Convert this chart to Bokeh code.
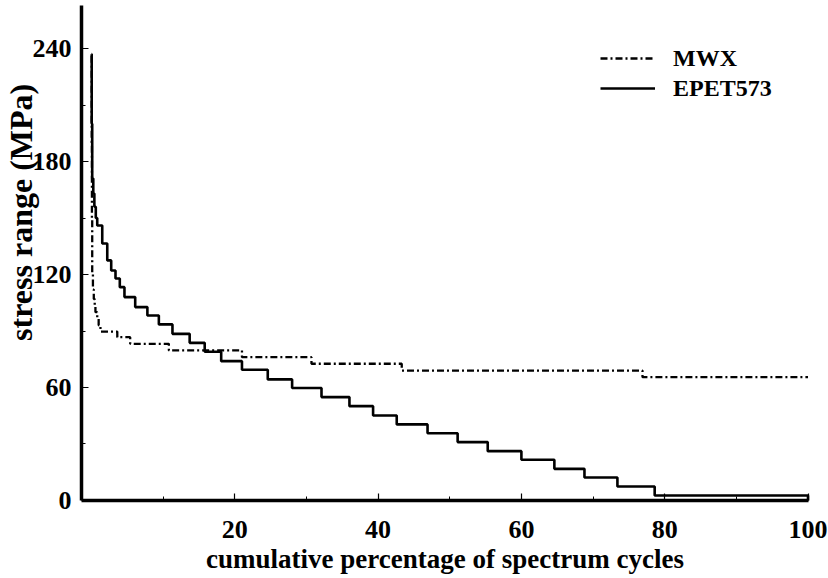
from bokeh.plotting import figure
from bokeh.models import Range1d, FixedTicker, Legend, LegendItem
from bokeh.core.properties import value
from bokeh.embed import file_html
from bokeh.resources import INLINE

# Stress-range spectra: step edges (cumulative % of cycles) and level (MPa) on each step
mwx_edges = [0, 0.03, 0.06, 0.1, 0.2, 0.32, 0.45, 0.55, 0.8, 1.0, 1.25, 3.6, 5.4,
             10.8, 21.0, 30.7, 43.3, 76.9, 100]
mwx_levels = [236, 190, 150, 120, 112, 107, 103, 100, 97, 93, 89.7, 86.7, 83.2,
              79.7, 76.1, 72.6, 69.0, 65.5]

epet_edges = [0, 0.03, 0.1, 0.25, 0.4, 0.6, 0.8, 1.5, 2.2, 2.75, 3.35, 3.95, 4.6,
              6.1, 7.8, 9.4, 11.3, 13.7, 15.8, 18.1, 21.0, 24.6, 28.0, 32.1, 36.0,
              39.3, 42.6, 46.9, 51.1, 55.3, 60.0, 64.6, 68.8, 73.4, 78.6, 100, 100]
epet_levels = [237, 200, 171, 163, 156, 150, 146, 136.5, 127.5, 122.1, 117.9, 113.3,
               108, 102.7, 98.2, 93.5, 88.5, 83.7, 79.0, 74.0, 69.4, 64.3, 59.7, 54.9,
               50.1, 45.1, 40.4, 35.7, 31.0, 26.2, 21.6, 16.8, 12.2, 7.43, 2.66, 0]

series_names = ["MWX", "EPET573"]
x_ticks = [20, 40, 60, 80, 100]
x_minor = [10, 30, 50, 70, 90]
y_ticks = [0, 60, 120, 180, 240]
y_minor = [30, 90, 150, 210]

FONT = "Liberation Serif"

# axis extents (data units) and where the two axes cross
X_START, X_END = -1.4, 100.0
Y_START, Y_END = 0.0, 262.9


def step_path(edges, levels):
    xs, ys = [], []
    for i, lv in enumerate(levels):
        xs += [edges[i], edges[i + 1]]
        ys += [lv, lv]
    return xs, ys


# the frame covers the whole canvas; both axes sit at fixed data positions
p = figure(width=828, height=578, output_backend="svg", toolbar_location=None,
           x_range=Range1d(-12.70, 102.86), y_range=Range1d(-41.42, 265.5),
           min_border=0)
p.min_border_left = 0
p.min_border_right = 0
p.min_border_top = 0
p.min_border_bottom = 0
p.outline_line_color = None
p.xgrid.visible = False
p.ygrid.visible = False
p.background_fill_color = "white"
p.border_fill_color = "white"

mx, my = step_path(mwx_edges, mwx_levels)
ex, ey = step_path(epet_edges, epet_levels)
r_mwx = p.line(mx, my, line_color="black", line_width=2.3, line_dash="7 3 2 3")
r_epet = p.line(ex, ey, line_color="black", line_width=2.6)

for ax, ticks, minor in ((p.xaxis, x_ticks, x_minor), (p.yaxis, y_ticks, y_minor)):
    ax.ticker = FixedTicker(ticks=ticks, minor_ticks=minor)
    ax.axis_line_width = 3.5
    ax.axis_line_color = "black"
    ax.major_tick_in = 7
    ax.major_tick_out = 0
    ax.minor_tick_in = 4
    ax.minor_tick_out = 0
    ax.major_tick_line_width = 1.2
    ax.minor_tick_line_width = 1
    ax.major_label_text_font = FONT
    ax.major_label_text_font_style = "bold"
    ax.major_label_text_font_size = "26px"
    ax.major_label_text_color = "black"

p.xaxis.fixed_location = Y_START
p.xaxis.bounds = (X_START, X_END)
p.yaxis.fixed_location = X_START
p.yaxis.bounds = (Y_START, Y_END)

p.yaxis.major_label_standoff = 10
p.xaxis.major_label_standoff = 21

p.xaxis.axis_label = "cumulative percentage of spectrum cycles"
p.xaxis.axis_label_text_font = FONT
p.xaxis.axis_label_text_font_style = "bold"
p.xaxis.axis_label_text_font_size = "27px"
p.xaxis.axis_label_text_color = "black"
p.xaxis.axis_label_standoff = 2

# vertical axis title, set a little above the middle of the stress axis
p.text(x=[-9.77], y=[153], text=["stress range (MPa)"], angle=1.5707963,
       text_align="center", text_baseline="middle",
       text_font=value(FONT), text_font_style=value("bold"),
       text_font_size=value("32px"), text_color="black")

legend = Legend(items=[LegendItem(label=series_names[0], renderers=[r_mwx]),
                       LegendItem(label=series_names[1], renderers=[r_epet])],
                location=(600, 475), glyph_width=55, glyph_height=30,
                label_height=30, label_standoff=18, padding=0, margin=0,
                spacing=0, border_line_alpha=0, background_fill_alpha=0,
                label_text_font=FONT, label_text_font_style="bold",
                label_text_font_size="24px", label_text_color="black")
p.add_layout(legend)

open("out.html", "w").write(file_html(p, INLINE))
